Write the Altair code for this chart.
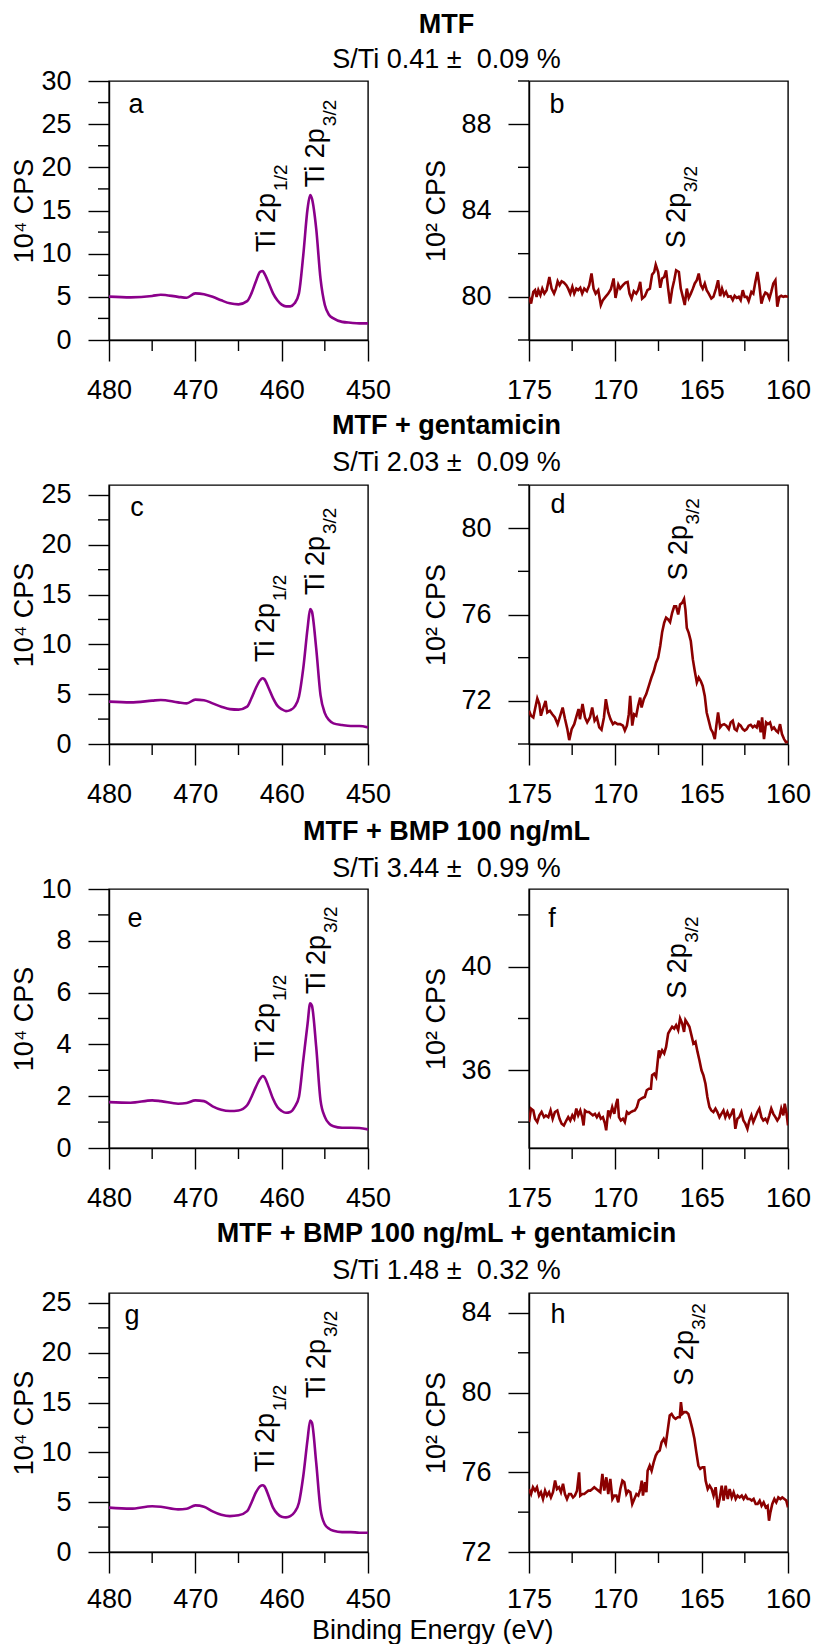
import altair as alt
import pandas as pd

# ---------------- data ----------------
TI_E = [480, 477.5, 475, 474, 472, 471, 470, 469, 468, 467,
        466, 465, 464, 463.5, 463, 462.5, 462.2, 462, 461.5, 461,
        460.5, 460, 459.5, 459, 458.5, 458, 457.5, 457, 456.7, 456.5,
        456, 455.5, 455, 454.5, 454, 453, 452, 451, 450]
TI_A = [5.02, 4.94, 5.1, 5.25, 5.0, 4.9, 5.4, 5.3, 5.0, 4.6,
        4.25, 4.13, 4.5, 5.4, 6.75, 7.9, 8.0, 7.7, 6.6, 5.4,
        4.6, 4.1, 3.9, 3.9, 4.25, 5.4, 9.8, 15.2, 16.8, 16.4,
        12.9, 7.1, 4.05, 2.9, 2.5, 2.1, 2.0, 1.93, 1.93]
TI_C = [4.25, 4.18, 4.35, 4.42, 4.18, 4.08, 4.45, 4.4, 4.08, 3.75,
        3.5, 3.45, 3.75, 4.6, 5.6, 6.4, 6.6, 6.5, 5.6, 4.6,
        3.85, 3.5, 3.3, 3.4, 3.75, 4.75, 7.6, 11.6, 13.55, 13.3,
        9.6, 4.9, 3.1, 2.4, 2.07, 1.9, 1.8, 1.8, 1.67]
TI_E_PANEL = [1.77, 1.75, 1.84, 1.81, 1.71, 1.74, 1.84, 1.81, 1.61, 1.48,
              1.43, 1.45, 1.65, 1.97, 2.35, 2.67, 2.78, 2.74, 2.35, 1.9,
              1.58, 1.43, 1.36, 1.39, 1.58, 1.97, 3.38, 4.79, 5.59, 5.5,
              3.9, 1.84, 1.2, 0.94, 0.84, 0.78, 0.78, 0.77, 0.72]
TI_G = [4.45, 4.35, 4.6, 4.55, 4.28, 4.35, 4.68, 4.55, 4.08, 3.74,
        3.6, 3.68, 4.1, 4.95, 5.95, 6.6, 6.7, 6.6, 5.6, 4.45,
        3.84, 3.54, 3.48, 3.6, 4.0, 4.95, 7.6, 11.3, 13.2, 13.0,
        8.96, 4.28, 2.77, 2.34, 2.14, 2.0, 2.0, 1.94, 1.94]

S_B_E = [175.00, 174.88, 174.75, 174.65, 174.56, 174.46, 174.34, 174.23, 174.11, 173.98,
         173.82, 173.69, 173.55, 173.44, 173.34, 173.23, 173.11, 172.98, 172.84, 172.73,
         172.61, 172.49, 172.38, 172.26, 172.15, 172.03, 171.92, 171.80, 171.65, 171.51,
         171.38, 171.26, 171.14, 170.99, 170.84, 170.72, 170.57, 170.41, 170.26, 170.10,
         169.99, 169.83, 169.72, 169.56, 169.41, 169.29, 169.18, 169.06, 168.93, 168.79,
         168.68, 168.56, 168.45, 168.29, 168.14, 168.00, 167.87, 167.75, 167.66, 167.52,
         167.40, 167.29, 167.17, 167.06, 166.94, 166.83, 166.71, 166.59, 166.48, 166.32,
         166.21, 166.09, 165.98, 165.86, 165.75, 165.63, 165.51, 165.40, 165.28, 165.17,
         165.05, 164.94, 164.82, 164.71, 164.59, 164.44, 164.32, 164.17, 164.05, 163.93,
         163.82, 163.70, 163.59, 163.47, 163.32, 163.20, 163.09, 162.97, 162.85, 162.74,
         162.62, 162.51, 162.39, 162.28, 162.12, 162.01, 161.89, 161.77, 161.66, 161.54,
         161.43, 161.31, 161.20, 161.08, 160.97, 160.85, 160.73, 160.62, 160.50, 160.39,
         160.27, 160.16, 160.00]
S_B = [80.00, 79.69, 80.23, 80.31, 80.00, 80.31, 80.08, 80.38, 80.15, 80.31,
       80.92, 80.38, 80.15, 80.38, 80.72, 80.54, 80.72, 80.66, 80.54, 80.38,
       80.15, 80.46, 80.15, 80.38, 80.31, 80.42, 80.15, 80.38, 80.26, 80.54,
       81.08, 80.38, 80.15, 80.31, 79.62, 79.85, 80.00, 80.15, 80.35, 80.85,
       79.95, 80.57, 80.38, 80.54, 80.66, 80.69, 80.15, 79.92, 80.26, 80.15,
       80.31, 80.69, 79.92, 80.03, 80.31, 80.38, 81.03, 81.15, 81.49, 81.15,
       80.42, 80.85, 80.92, 81.23, 80.38, 79.69, 80.35, 80.77, 81.23, 81.15,
       80.38, 80.00, 79.62, 80.38, 79.95, 80.15, 80.38, 80.62, 80.77, 81.08,
       80.54, 80.38, 80.62, 80.31, 80.15, 79.92, 80.00, 80.38, 80.77, 80.03,
       80.38, 80.08, 80.23, 80.00, 80.03, 79.85, 80.05, 79.95, 80.00, 79.85,
       80.31, 80.00, 80.00, 79.80, 80.23, 80.15, 80.69, 81.15, 80.54, 79.69,
       80.00, 80.20, 80.15, 79.92, 80.23, 80.62, 80.77, 79.54, 80.00, 80.05,
       80.00, 80.03, 80.00]

S_D_E = [175.00, 174.88, 174.75, 174.65, 174.52, 174.40, 174.31, 174.17, 174.04, 173.94,
         173.79, 173.65, 173.50, 173.34, 173.19, 173.05, 172.92, 172.78, 172.67, 172.53,
         172.38, 172.24, 172.13, 172.05, 171.90, 171.76, 171.63, 171.47, 171.34, 171.20,
         171.07, 170.93, 170.80, 170.66, 170.55, 170.41, 170.28, 170.14, 170.03, 169.87,
         169.72, 169.56, 169.45, 169.33, 169.22, 169.14, 169.02, 168.91, 168.79, 168.68,
         168.56, 168.48, 168.35, 168.21, 168.06, 167.91, 167.77, 167.64, 167.52, 167.40,
         167.29, 167.17, 167.06, 166.94, 166.83, 166.71, 166.59, 166.48, 166.36, 166.25,
         166.13, 166.02, 165.94, 165.86, 165.75, 165.63, 165.51, 165.40, 165.28, 165.17,
         165.05, 164.94, 164.82, 164.71, 164.59, 164.47, 164.36, 164.24, 164.15, 164.05,
         163.93, 163.82, 163.70, 163.57, 163.43, 163.32, 163.20, 163.09, 162.97, 162.85,
         162.74, 162.62, 162.51, 162.39, 162.28, 162.16, 162.04, 161.93, 161.81, 161.70,
         161.58, 161.50, 161.39, 161.27, 161.16, 161.04, 160.93, 160.81, 160.69, 160.58,
         160.46, 160.35, 160.23, 160.12, 160.00]
S_D = [71.54, 71.31, 71.23, 71.62, 72.11, 71.85, 71.31, 71.69, 72.00, 71.46,
       71.54, 71.38, 71.23, 70.92, 71.31, 71.69, 71.18, 70.69, 70.18, 70.69,
       70.92, 71.31, 71.62, 71.15, 71.85, 71.23, 71.00, 71.23, 71.69, 71.08,
       71.23, 70.77, 70.66, 71.23, 72.08, 71.46, 71.15, 70.92, 71.00, 70.92,
       70.92, 70.85, 70.62, 70.85, 71.38, 72.23, 70.85, 71.38, 71.31, 71.77,
       72.15, 71.69, 72.08, 72.31, 72.69, 73.08, 73.38, 73.77, 74.00, 74.54,
       75.18, 75.62, 75.85, 75.77, 75.65, 76.08, 76.38, 76.38, 76.00, 76.46,
       76.54, 76.72, 76.23, 75.38, 75.15, 74.77, 73.92, 73.38, 72.85, 73.08,
       72.92, 72.69, 72.23, 71.46, 71.08, 70.69, 70.54, 70.23, 70.85, 71.46,
       70.77, 70.88, 70.92, 70.85, 70.69, 71.00, 71.08, 70.69, 70.62, 70.92,
       70.85, 70.69, 70.62, 70.69, 70.85, 70.89, 70.77, 70.85, 70.77, 71.08,
       70.54, 71.23, 70.23, 71.00, 70.92, 71.00, 70.69, 70.77, 70.62, 70.54,
       70.92, 70.46, 70.23, 70.08, 70.11]

S_F_E = [175.00, 174.88, 174.75, 174.65, 174.52, 174.40, 174.27, 174.13, 174.02, 173.88,
         173.75, 173.63, 173.50, 173.36, 173.23, 173.11, 172.98, 172.84, 172.73, 172.61,
         172.49, 172.38, 172.26, 172.15, 172.03, 171.92, 171.84, 171.76, 171.65, 171.53,
         171.41, 171.30, 171.18, 171.07, 170.95, 170.84, 170.72, 170.60, 170.53, 170.41,
         170.30, 170.18, 170.06, 169.95, 169.87, 169.79, 169.68, 169.56, 169.45, 169.33,
         169.22, 169.10, 168.98, 168.87, 168.75, 168.64, 168.52, 168.41, 168.29, 168.18,
         168.06, 167.94, 167.87, 167.75, 167.64, 167.56, 167.48, 167.40, 167.29, 167.17,
         167.06, 166.94, 166.83, 166.71, 166.59, 166.48, 166.36, 166.25, 166.13, 166.02,
         165.94, 165.82, 165.71, 165.59, 165.48, 165.36, 165.24, 165.13, 165.01, 164.90,
         164.78, 164.67, 164.55, 164.44, 164.32, 164.20, 164.09, 163.97, 163.86, 163.74,
         163.63, 163.51, 163.39, 163.28, 163.16, 163.05, 162.93, 162.82, 162.70, 162.58,
         162.47, 162.35, 162.24, 162.12, 162.01, 161.89, 161.77, 161.66, 161.54, 161.43,
         161.31, 161.20, 161.08, 160.97, 160.85, 160.73, 160.62, 160.50, 160.39, 160.27,
         160.19, 160.08, 160.00]
S_F = [34.00, 34.52, 34.45, 34.13, 34.00, 34.26, 34.39, 34.19, 34.26, 34.19,
       34.45, 34.13, 34.39, 34.45, 34.13, 33.94, 33.87, 34.06, 34.19, 34.06,
       34.26, 34.13, 34.52, 34.26, 34.45, 34.19, 33.87, 34.45, 34.39, 34.39,
       34.32, 34.26, 34.32, 34.19, 34.32, 34.13, 34.19, 33.94, 33.68, 34.45,
       34.26, 34.58, 34.32, 34.71, 34.90, 34.19, 34.06, 34.13, 34.00, 34.39,
       34.32, 34.39, 34.43, 34.45, 34.58, 34.84, 34.90, 34.94, 34.97, 35.23,
       35.29, 35.29, 35.81, 35.87, 35.74, 36.26, 36.77, 36.58, 36.77, 36.65,
       36.90, 37.42, 37.55, 37.68, 37.61, 37.74, 37.55, 38.00, 37.81, 37.48,
       37.94, 37.81, 37.68, 37.35, 37.03, 37.10, 36.71, 36.39, 36.00, 35.81,
       35.48, 34.97, 34.58, 34.45, 34.39, 34.52, 34.39, 34.19, 34.32, 34.45,
       34.19, 34.39, 34.19, 34.32, 34.52, 33.74, 34.13, 34.19, 34.39, 34.06,
       33.94, 33.74, 34.06, 34.26, 34.00, 34.19, 34.39, 34.52, 34.19, 34.06,
       34.13, 34.00, 34.26, 34.52, 34.32, 34.19, 34.06, 34.19, 34.52, 34.26,
       34.71, 34.32, 33.87]

S_H_E = [175.00, 174.88, 174.77, 174.65, 174.54, 174.42, 174.31, 174.19, 174.07, 173.96,
         173.84, 173.73, 173.61, 173.49, 173.38, 173.26, 173.15, 173.03, 172.92, 172.80,
         172.68, 172.57, 172.45, 172.34, 172.22, 172.10, 172.03, 171.91, 171.80, 171.68,
         171.56, 171.45, 171.33, 171.22, 171.10, 170.98, 170.87, 170.75, 170.64, 170.52,
         170.41, 170.29, 170.17, 170.06, 169.94, 169.83, 169.71, 169.59, 169.48, 169.36,
         169.25, 169.13, 169.02, 168.90, 168.78, 168.67, 168.55, 168.47, 168.40, 168.28,
         168.20, 168.13, 168.01, 167.90, 167.78, 167.66, 167.55, 167.43, 167.32, 167.20,
         167.08, 166.97, 166.85, 166.74, 166.62, 166.51, 166.39, 166.27, 166.20, 166.12,
         166.00, 165.89, 165.77, 165.66, 165.54, 165.42, 165.31, 165.19, 165.08, 164.96,
         164.85, 164.77, 164.65, 164.54, 164.42, 164.31, 164.19, 164.07, 163.96, 163.84,
         163.73, 163.61, 163.49, 163.38, 163.26, 163.15, 163.03, 162.92, 162.80, 162.68,
         162.57, 162.45, 162.34, 162.22, 162.10, 161.99, 161.87, 161.76, 161.64, 161.53,
         161.41, 161.29, 161.18, 161.10, 161.02, 160.91, 160.79, 160.68, 160.56, 160.44,
         160.33, 160.21, 160.10, 160.00]
S_H = [75.16, 74.91, 75.25, 75.08, 75.25, 74.83, 75.00, 74.66, 75.08, 74.83,
       75.00, 74.74, 75.00, 75.59, 75.16, 75.25, 75.00, 75.42, 74.91, 74.66,
       74.91, 74.91, 74.74, 74.83, 75.08, 76.00, 74.83, 74.91, 74.91, 75.00,
       75.08, 75.08, 75.16, 75.25, 75.16, 75.08, 75.00, 75.92, 75.08, 75.75,
       74.91, 75.67, 74.66, 74.83, 74.83, 74.49, 75.16, 75.58, 75.50, 74.91,
       75.08, 75.00, 74.41, 74.66, 74.91, 74.83, 75.16, 75.58, 74.83, 75.50,
       75.00, 76.08, 76.34, 76.08, 76.50, 76.84, 77.01, 77.09, 77.51, 77.68,
       77.42, 78.09, 78.85, 78.93, 78.76, 78.68, 78.76, 78.76, 79.52, 78.93,
       79.02, 79.02, 78.93, 78.59, 78.18, 77.68, 77.01, 76.34, 76.17, 76.25,
       76.25, 75.58, 75.16, 75.33, 75.16, 74.83, 75.25, 74.24, 74.66, 75.33,
       74.58, 75.33, 74.66, 75.16, 74.74, 75.00, 74.66, 74.83, 74.74, 74.83,
       74.66, 74.83, 74.66, 74.66, 74.58, 74.66, 74.41, 74.41, 74.58, 74.32,
       74.49, 74.24, 74.32, 73.57, 73.99, 74.41, 74.66, 74.49, 74.74, 74.66,
       74.74, 74.66, 74.58, 74.24]

ROW_TITLES = ["MTF", "MTF + gentamicin", "MTF + BMP 100 ng/mL",
              "MTF + BMP 100 ng/mL + gentamicin"]
ROW_SUBTITLES = ["S/Ti 0.41 \u00b1\u00a0 0.09 %", "S/Ti 2.03 \u00b1\u00a0 0.09 %",
                 "S/Ti 3.44 \u00b1\u00a0 0.99 %", "S/Ti 1.48 \u00b1\u00a0 0.32 %"]
TI_LETTERS = ["a", "c", "e", "g"]
S_LETTERS = ["b", "d", "f", "h"]

TI_YDOMAIN = [[0, 30], [0, 26], [0, 10], [0, 26]]
TI_YMAJOR = [[0, 5, 10, 15, 20, 25, 30], [0, 5, 10, 15, 20, 25],
             [0, 2, 4, 6, 8, 10], [0, 5, 10, 15, 20, 25]]
TI_YMINOR = [[2.5, 7.5, 12.5, 17.5, 22.5, 27.5], [2.5, 7.5, 12.5, 17.5, 22.5],
             [1, 3, 5, 7, 9], [2.5, 7.5, 12.5, 17.5, 22.5]]
S_YDOMAIN = [[78, 90], [70, 82], [33, 43], [72, 85]]
S_YMAJOR = [[80, 84, 88], [72, 76, 80], [36, 40], [72, 76, 80, 84]]
S_YMINOR = [[78, 82, 86, 90], [70, 74, 78, 82], [34, 38, 42], [74, 78, 82]]
TI_XDOMAIN = [450, 480]
TI_XMAJOR = [480, 470, 460, 450]
TI_XMINOR = [475, 465, 455]
S_XDOMAIN = [160, 175]
S_XMAJOR = [175, 170, 165, 160]
S_XMINOR = [172.5, 167.5, 162.5]

TI_PEAK_MAIN = ["Ti 2p", "Ti 2p"]
TI_PEAK_SUB = ["1/2", "3/2"]
TI_PEAK_X = [[461.9, 456.3], [462.05, 456.25], [462.05, 456.15], [462.05, 456.15]]
TI_PEAK_Y = [[10.2, 17.7], [8.23, 14.96], [3.32, 5.95], [8.03, 15.46]]
S_PEAK_MAIN = ["S 2p"]
S_PEAK_SUB = ["3/2"]
S_PEAK_X = [166.56, 166.43, 166.5, 166.08]
S_PEAK_Y = [82.25, 77.57, 38.76, 80.35]

# ---------------- styling ----------------
FONT = "Liberation Sans"
TI_COLOR = "#8B008B"
S_COLOR = "#8B0000"
W = H = 259
FS = 27
TI_LETTER_POS = [(27, 24), (28, 23), (26, 30), (23, 23)]
S_LETTER_POS = [(28, 24), (29, 20), (23, 30), (29, 22)]
TITLE_OFFSETS = [-7, 4, -8, 4]
SUBTITLE_PADS = [8, 10, 10, 10]
X_LABEL_PAD = [16, 16, 16, 13]


def panel(E, V, color, interp, xdom, xmaj, xmin, ydom, ymaj, ymin, ytitle,
          tpad, xlpad, letter, lpos, px, py, pmain, psub, subdx, title=None):
    xs = alt.Scale(domain=xdom, reverse=True, nice=False, zero=False)
    ys = alt.Scale(domain=ydom, nice=False, zero=False)
    xaxis = alt.Axis(values=xmaj, title=None, format="d", tickSize=21,
                     labelPadding=xlpad, labelFlush=False, grid=False,
                     labelOverlap=False)
    yaxis = alt.Axis(values=ymaj, title=ytitle, format="d", tickSize=21,
                     labelPadding=17, grid=False, titlePadding=tpad,
                     labelOverlap=False)
    line = alt.Chart(pd.DataFrame({"E": E, "V": V})).mark_line(
        color=color, strokeWidth=2.6, interpolate=interp, clip=True
    ).encode(x=alt.X("E:Q", scale=xs, axis=xaxis),
             y=alt.Y("V:Q", scale=ys, axis=yaxis))
    xm = alt.Chart(pd.DataFrame({"m": xmin})).mark_rule(
        color="black", strokeWidth=1.4
    ).encode(x=alt.X("m:Q", scale=xs, axis=xaxis),
             y=alt.value(H), y2=alt.value(H + 11))
    ym = alt.Chart(pd.DataFrame({"m": ymin})).mark_rule(
        color="black", strokeWidth=1.4
    ).encode(y=alt.Y("m:Q", scale=ys, axis=yaxis),
             x=alt.value(-11), x2=alt.value(0))
    let = alt.Chart(pd.DataFrame({"t": [letter]})).mark_text(
        fontSize=FS, font=FONT, color="black", align="center", baseline="middle"
    ).encode(text="t:N", x=alt.value(lpos[0]), y=alt.value(lpos[1]))
    lab = pd.DataFrame({"px": px, "py": py, "main": pmain, "sub": psub})
    main = alt.Chart(lab).mark_text(
        angle=270, align="left", baseline="alphabetic", dy=10,
        fontSize=FS, font=FONT, color="black"
    ).encode(x=alt.X("px:Q", scale=xs, axis=xaxis),
             y=alt.Y("py:Q", scale=ys, axis=yaxis), text="main:N")
    sub = alt.Chart(lab).mark_text(
        angle=270, align="left", baseline="alphabetic", dy=22, dx=subdx,
        fontSize=19, font=FONT, color="black"
    ).encode(x=alt.X("px:Q", scale=xs, axis=xaxis),
             y=alt.Y("py:Q", scale=ys, axis=yaxis), text="sub:N")
    ch = alt.layer(line, xm, ym, let, main, sub).properties(width=W, height=H)
    if title is not None:
        ch = ch.properties(title=title)
    return ch


TI_DATA = [TI_A, TI_C, TI_E_PANEL, TI_G]
S_DATA = [(S_B_E, S_B), (S_D_E, S_D), (S_F_E, S_F), (S_H_E, S_H)]

panels = []
for i in range(4):
    t = alt.TitleParams(
        text=ROW_TITLES[i], subtitle=ROW_SUBTITLES[i], anchor="middle",
        frame="group", dx=208, offset=TITLE_OFFSETS[i], font=FONT,
        fontSize=FS, fontWeight="bold", color="black", subtitleFont=FONT,
        subtitleFontSize=FS, subtitleColor="black",
        subtitlePadding=SUBTITLE_PADS[i])
    left = panel(TI_E, TI_DATA[i], TI_COLOR, "monotone", TI_XDOMAIN, TI_XMAJOR,
                 TI_XMINOR, TI_YDOMAIN[i], TI_YMAJOR[i], TI_YMINOR[i],
                 "10\u2074 CPS", 2, X_LABEL_PAD[i], TI_LETTERS[i],
                 TI_LETTER_POS[i], TI_PEAK_X[i], TI_PEAK_Y[i], TI_PEAK_MAIN,
                 TI_PEAK_SUB, 61, title=t)
    right = panel(S_DATA[i][0], S_DATA[i][1], S_COLOR, "linear", S_XDOMAIN,
                  S_XMAJOR, S_XMINOR, S_YDOMAIN[i], S_YMAJOR[i], S_YMINOR[i],
                  "10\u00b2 CPS", 10, X_LABEL_PAD[i], S_LETTERS[i],
                  S_LETTER_POS[i], [S_PEAK_X[i]], [S_PEAK_Y[i]], S_PEAK_MAIN,
                  S_PEAK_SUB, 56)
    panels += [left, right]

# The svg is kept inside the 804 x 1636 area of the page so that nothing
# scrolls; the grid origin (top-left of panel a) sits at padding left/top.
chart = alt.concat(
    *panels, columns=2, spacing={"row": 145, "column": 161}, bounds="flush",
    title=alt.TitleParams("Binding Energy (eV)", orient="bottom",
                          anchor="middle", frame="bounds", dx=22, offset=5,
                          font=FONT, fontSize=FS, fontWeight="normal",
                          color="black")
).properties(
    autosize=alt.AutoSizeParams(type="none"),
    padding={"left": 101, "top": 73, "right": 703, "bottom": 1563}
).configure_view(
    stroke="black", strokeWidth=1.4
).configure_axis(
    labelFont=FONT, labelFontSize=FS, labelColor="black",
    titleFont=FONT, titleFontSize=FS, titleFontWeight="normal",
    titleColor="black", tickColor="black", tickWidth=1.4,
    domainColor="black", domainWidth=1.4
)

chart.save("out.html", embed_options={"renderer": "svg", "actions": False})
